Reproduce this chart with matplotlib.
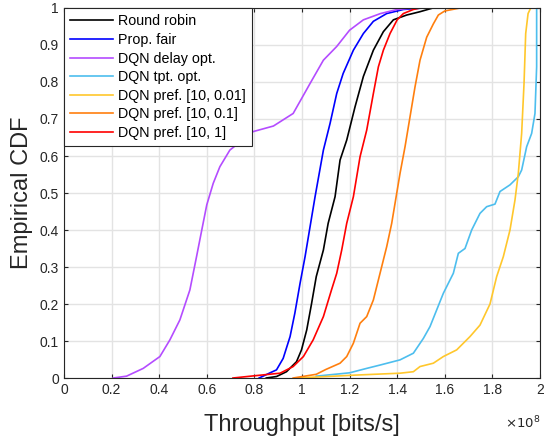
import matplotlib
matplotlib.use("Agg")
import matplotlib.pyplot as plt

# throughput values in units of 1e8 bits/s, with CDF levels
rr_x = [0.85, 0.893, 0.935, 0.977, 0.998, 1.02, 1.04, 1.06, 1.09, 1.11, 1.139, 1.16, 1.188, 1.223, 1.258, 1.30, 1.342, 1.384, 1.44, 1.496, 1.55]
rr_y = [0.0, 0.004, 0.017, 0.044, 0.076, 0.13, 0.20, 0.274, 0.346, 0.418, 0.49, 0.589, 0.643, 0.733, 0.815, 0.886, 0.936, 0.968, 0.981, 0.99, 1.0]

pf_x = [0.82, 0.866, 0.893, 0.921, 0.95, 0.97, 0.992, 1.013, 1.034, 1.055, 1.09, 1.118, 1.146, 1.173, 1.216, 1.258, 1.30, 1.356, 1.426, 1.51]
pf_y = [0.0, 0.014, 0.022, 0.053, 0.112, 0.175, 0.256, 0.328, 0.409, 0.49, 0.616, 0.688, 0.769, 0.823, 0.886, 0.931, 0.964, 0.985, 0.996, 1.0]

dly_x = [0.207, 0.263, 0.333, 0.403, 0.445, 0.487, 0.529, 0.557, 0.579, 0.60, 0.627, 0.655, 0.697, 0.795, 0.88, 0.963, 0.999, 1.034, 1.09, 1.146, 1.20, 1.258, 1.33, 1.40, 1.47]
dly_y = [0.0, 0.005, 0.026, 0.058, 0.103, 0.157, 0.238, 0.328, 0.40, 0.468, 0.526, 0.571, 0.616, 0.666, 0.681, 0.715, 0.756, 0.796, 0.859, 0.896, 0.94, 0.968, 0.985, 0.996, 1.0]

tpt_x = [1.06, 1.20, 1.272, 1.328, 1.412, 1.468, 1.51, 1.538, 1.566, 1.594, 1.636, 1.657, 1.685, 1.713, 1.748, 1.776, 1.811, 1.832, 1.874, 1.909, 1.923, 1.944, 1.965, 1.979, 1.986, 1.986]
tpt_y = [0.005, 0.014, 0.026, 0.035, 0.049, 0.067, 0.107, 0.139, 0.184, 0.229, 0.283, 0.337, 0.35, 0.40, 0.445, 0.463, 0.47, 0.504, 0.522, 0.544, 0.562, 0.625, 0.661, 0.715, 0.841, 1.0]

p001_x = [0.977, 1.23, 1.412, 1.468, 1.496, 1.552, 1.594, 1.65, 1.706, 1.748, 1.79, 1.818, 1.846, 1.874, 1.895, 1.909, 1.923, 1.933, 1.94, 1.95, 1.961]
p001_y = [0.0, 0.008, 0.013, 0.017, 0.031, 0.04, 0.058, 0.076, 0.112, 0.143, 0.20, 0.274, 0.328, 0.40, 0.481, 0.553, 0.661, 0.796, 0.931, 0.985, 1.0]

p01_x = [0.963, 1.06, 1.10, 1.16, 1.188, 1.216, 1.244, 1.272, 1.30, 1.328, 1.356, 1.377, 1.391, 1.412, 1.433, 1.454, 1.475, 1.496, 1.524, 1.552, 1.573, 1.60, 1.664]
p01_y = [0.0, 0.01, 0.023, 0.04, 0.058, 0.094, 0.148, 0.166, 0.211, 0.283, 0.355, 0.418, 0.472, 0.553, 0.625, 0.706, 0.787, 0.859, 0.921, 0.957, 0.981, 0.992, 1.0]

p1_x = [0.71, 0.80, 0.908, 0.963, 1.006, 1.047, 1.09, 1.124, 1.146, 1.167, 1.188, 1.216, 1.244, 1.272, 1.30, 1.321, 1.342, 1.37, 1.40, 1.426, 1.468, 1.496]
p1_y = [0.0, 0.006, 0.013, 0.031, 0.058, 0.103, 0.166, 0.238, 0.283, 0.346, 0.418, 0.49, 0.598, 0.67, 0.769, 0.841, 0.886, 0.931, 0.968, 0.985, 0.996, 1.0]

plt.rcParams['font.family'] = ['Liberation Sans', 'DejaVu Sans']

fig = plt.figure(figsize=(5.44, 4.37), dpi=100)
ax = fig.add_axes([0.1176, 0.135, 0.875, 0.8467])

lw = 1.2
ax.plot(rr_x, rr_y, color="black", lw=lw, label="Round robin")
ax.plot(pf_x, pf_y, color="#0000ff", lw=lw, label="Prop. fair")
ax.plot(dly_x, dly_y, color="#b44cff", lw=lw, label="DQN delay opt.")
ax.plot(tpt_x, tpt_y, color="#4dbeee", lw=lw, label="DQN tpt. opt.")
ax.plot(p001_x, p001_y, color="#ffc72c", lw=lw, label="DQN pref. [10, 0.01]")
ax.plot(p01_x, p01_y, color="#ff7f0e", lw=lw, label="DQN pref. [10, 0.1]")
ax.plot(p1_x, p1_y, color="#ff0000", lw=lw, label="DQN pref. [10, 1]")

ax.set_xlim(0, 2)
ax.set_ylim(0, 1)
xt = [0, 0.2, 0.4, 0.6, 0.8, 1, 1.2, 1.4, 1.6, 1.8, 2]
ax.set_xticks(xt)
ax.set_xticklabels(["0", "0.2", "0.4", "0.6", "0.8", "1", "1.2", "1.4", "1.6", "1.8", "2"])
yt = [i / 10 for i in range(11)]
ax.set_yticks(yt)
ax.set_yticklabels(["0"] + ["0.%d" % i for i in range(1, 10)] + ["1"])
ax.tick_params(direction="in", length=3, labelsize=10, colors="#262626", top=True, right=True)
ax.grid(True, color="#e3e3e3", lw=1)
ax.set_axisbelow(True)
for s in ax.spines.values():
    s.set_color("#262626")
    s.set_linewidth(0.8)

ax.set_xlabel("Throughput [bits/s]", fontsize=17, color="#262626", labelpad=12)
ax.set_ylabel("Empirical CDF", fontsize=17, color="#262626", labelpad=5)
ax.text(1.0, -0.1, r"$\times10^{8}$", transform=ax.transAxes, ha="right", va="top", fontsize=9.5, color="#262626")

leg = ax.legend(loc="upper left", fontsize=10.3, frameon=True, fancybox=False, borderaxespad=0,
                handlelength=3.0, handletextpad=0.3, labelspacing=0.32, borderpad=0.45)
leg.get_frame().set_edgecolor("#262626")
leg.get_frame().set_linewidth(0.8)
leg.get_frame().set_alpha(1)

fig.savefig("out.png", dpi=100)
